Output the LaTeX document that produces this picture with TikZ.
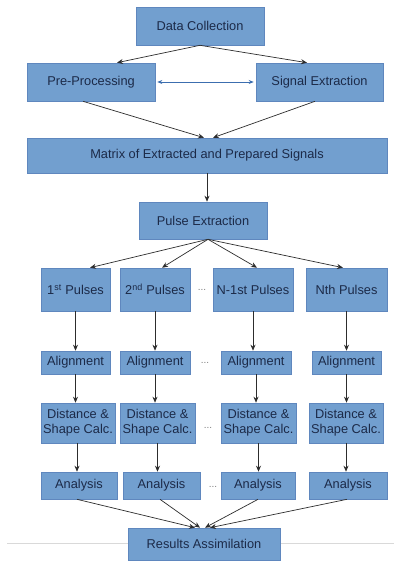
\documentclass[tikz,border=0pt]{standalone}
\usepackage{fontspec}
\setmainfont{Liberation Sans}
\usetikzlibrary{calc,arrows.meta}
\definecolor{boxfill}{RGB}{114,159,207}
\definecolor{boxline}{RGB}{95,135,190}
\definecolor{boxtext}{RGB}{28,42,72}
\definecolor{arrowcol}{RGB}{45,45,45}
\definecolor{dblcol}{RGB}{60,110,175}
\begin{document}
\begin{tikzpicture}[x=1pt,y=-1pt,
  box/.style={draw=boxline, fill=boxfill, text=boxtext, font=\fontsize{12.8}{15}\selectfont, inner sep=0pt, align=center, line width=0.6pt},
  arr/.style={draw=arrowcol, line width=0.7pt, -{Stealth[length=6pt,width=5pt]}},
  dbl/.style={draw=dblcol, line width=0.7pt, {Stealth[length=5pt,width=4pt]}-{Stealth[length=5pt,width=4pt]}, shorten <=2pt, shorten >=2pt},
  dotsnode/.style={text=gray, font=\fontsize{10}{10}\selectfont, inner sep=0pt}]
\useasboundingbox (0,0) rectangle (394,561);
\fill[white] (0,0) rectangle (394,561);
\draw[gray!30, line width=0.8pt] (7,543) -- (394,543);

% top
\node[box, minimum width=128pt, minimum height=38pt] (dc) at (200,26) {Data Collection};
\node[box, minimum width=128pt, minimum height=38pt] (pre) at (91,82) {Pre-Processing};
\node[box, minimum width=127pt, minimum height=38pt] (sig) at (319.5,82) {Signal Extraction};
\node[box, minimum width=360pt, minimum height=35pt] (mat) at (207,155.5) {Matrix of Extracted and Prepared Signals};
\node[box, minimum width=128pt, minimum height=37pt] (pe) at (203,220.5) {Pulse Extraction};

% pulses
\node[box, minimum width=69pt, minimum height=43pt] (p1) at (75.5,289.5) {1\textsuperscript{st} Pulses};
\node[box, minimum width=70pt, minimum height=43pt] (p2) at (155,289.5) {2\textsuperscript{nd} Pulses};
\node[box, minimum width=80pt, minimum height=43pt] (p3) at (253,289.5) {N-1st Pulses};
\node[box, minimum width=81pt, minimum height=43pt] (p4) at (346.5,289.5) {Nth Pulses};

% alignment
\node[box, minimum width=69pt, minimum height=23pt] (a1) at (75.5,362.5) {Alignment};
\node[box, minimum width=70pt, minimum height=23pt] (a2) at (155,362.5) {Alignment};
\node[box, minimum width=70pt, minimum height=23pt] (a3) at (256,362.5) {Alignment};
\node[box, minimum width=69pt, minimum height=23pt] (a4) at (346.5,362.5) {Alignment};

% distance
\node[box, minimum width=74pt, minimum height=40pt] (d1) at (78,423) {Distance \&\\Shape Calc.};
\node[box, minimum width=75pt, minimum height=40pt] (d2) at (157.5,423) {Distance \&\\Shape Calc.};
\node[box, minimum width=75pt, minimum height=40pt] (d3) at (258.5,423) {Distance \&\\Shape Calc.};
\node[box, minimum width=74pt, minimum height=40pt] (d4) at (346,423) {Distance \&\\Shape Calc.};

% analysis
\node[box, minimum width=76pt, minimum height=27pt] (n1) at (79,485.5) {Analysis};
\node[box, minimum width=77pt, minimum height=27pt] (n2) at (161.5,485.5) {Analysis};
\node[box, minimum width=74pt, minimum height=27pt] (n3) at (258,485.5) {Analysis};
\node[box, minimum width=78pt, minimum height=27pt] (n4) at (348,485.5) {Analysis};

\node[box, minimum width=152pt, minimum height=32pt] (res) at (204,544) {Results Assimilation};

% dots
\node[dotsnode] (dt1) at (202,290) {...};
\node[dotsnode] (dt2) at (205,363) {...};
\node[dotsnode] (dt3) at (208,428) {...};
\node[dotsnode] (dt4) at (213,487) {...};

% connectors top
\draw[arr] (dc.south) -- ($(pre.north)+(26,0)$);
\draw[arr] (dc.south) -- ($(sig.north)+(-12.5,0)$);
\draw[dbl] (pre.east) -- (sig.west);
\draw[arr] ($(pre.south)+(-8,0)$) -- ($(mat.north)+(-3,0)$);
\draw[arr] ($(sig.south)+(-4.5,0)$) -- ($(mat.north)+(6,0)$);
\draw[arr] (mat.south) -- (mat.south |- pe.north);

% pulse extraction fan
\draw[arr] ($(pe.south)+(5,0)$) -- ($(p1.north)+(14.5,0)$);
\draw[arr] ($(pe.south)+(5,0)$) -- ($(p2.north)+(7,0)$);
\draw[arr] ($(pe.south)+(5,0)$) -- ($(p3.north)+(4,0)$);
\draw[arr] ($(pe.south)+(5,0)$) -- ($(p4.north)+(-3.5,0)$);

% columns
\foreach \i in {1,2,3,4}{
  \draw[arr] (p\i.south) -- (p\i.south |- a\i.north);
  \draw[arr] (a\i.south) -- (a\i.south |- d\i.north);
}
\coordinate (d1s) at ($(d1.south)+(-1,0)$);
\draw[arr] (d1s) -- (d1s |- n1.north);
\draw[arr] (d2.south) -- (d2.south |- n2.north);
\draw[arr] (d3.south) -- (d3.south |- n3.north);
\draw[arr] (d4.south) -- (d4.south |- n4.north);

% to results
\draw[arr] ($(n1.south)+(-2,0)$) -- ($(res.north)+(-9,0)$);
\draw[arr] ($(n2.south)+(-1.5,0)$) -- ($(res.north)+(-4,0)$);
\draw[arr] (n3.south) -- ($(res.north)+(1,0)$);
\draw[arr] ($(n4.south)+(-1,0)$) -- ($(res.north)+(6,0)$);
\end{tikzpicture}
\end{document}
